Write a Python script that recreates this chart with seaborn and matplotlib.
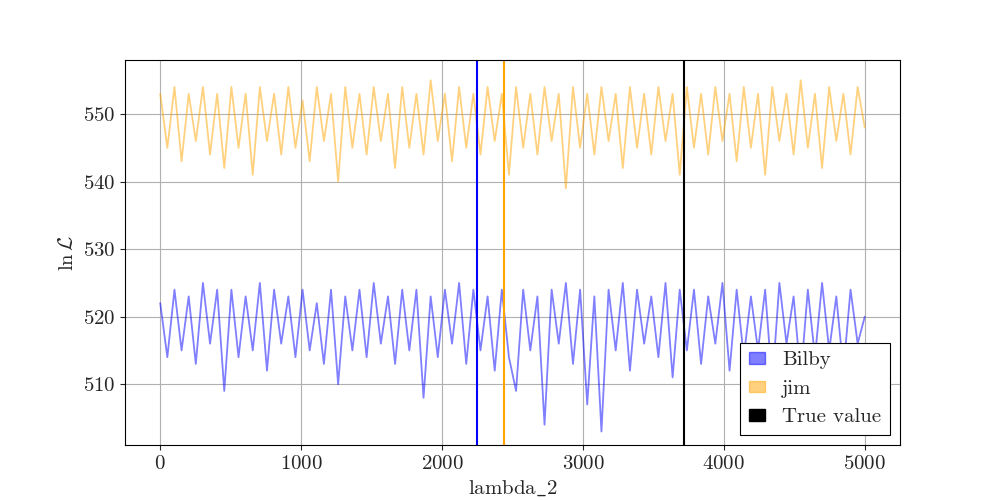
import numpy as np
import matplotlib
matplotlib.use("Agg")
import matplotlib.pyplot as plt
import seaborn as sns
from matplotlib.patches import Patch

sns.set_style("ticks")
plt.rcParams['font.family'] = ['cmr10', 'DejaVu Serif']
plt.rcParams['mathtext.fontset'] = 'cm'
plt.rcParams['axes.formatter.use_mathtext'] = True
plt.rcParams['axes.unicode_minus'] = False

bilby = [522,514,524,515,523,513,525,516,524,509,524,514,523,515,525,512,524,516,523,514,
         524,515,522,513,524,510,523,515,524,514,525,516,523,513,524,515,524,508,523,514,
         524,516,525,513,524,515,523,512,524,514,509,524,515,523,504,524,516,525,513,524,
         507,523,503,524,515,525,512,524,516,523,514,525,511,524,515,524,513,523,516,525,
         512,524,514,523,515,524,510,525,516,523,511,524,514,525,515,523,512,524,516,520]
jim = [553,545,554,543,553,546,554,544,553,542,554,545,553,541,554,546,553,544,554,545,
       552,543,554,546,553,540,554,545,553,544,554,546,553,542,554,545,553,544,555,546,
       553,543,554,545,553,544,554,546,553,541,554,545,553,544,554,546,553,539,554,545,
       553,544,554,546,553,542,554,545,553,544,554,546,553,541,554,545,553,544,554,546,
       553,543,554,545,553,541,554,546,553,544,555,545,553,542,554,546,553,544,554,548]
n_samples = 5000
vlines = {"Bilby": (2250, "blue"), "jim": (2440, "orange"), "True value": (3720, "black")}

xb = np.linspace(0, n_samples, len(bilby))
xj = np.linspace(0, n_samples, len(jim))

fig, ax = plt.subplots(figsize=(10, 5), dpi=100)
sns.lineplot(x=xb, y=bilby, ax=ax, color="blue", alpha=0.5, lw=1.3)
sns.lineplot(x=xj, y=jim, ax=ax, color="orange", alpha=0.5, lw=1.3)
for name, (v, c) in vlines.items():
    ax.axvline(v, color=c, lw=1.5)
ax.set_xlim(-250, 5250)
ax.set_ylim(501, 558)
ax.set_yticks([510, 520, 530, 540, 550])
ax.grid(True, color="#b0b0b0", lw=0.8)
ax.tick_params(labelsize=15)
ax.set_xlabel(r"$\mathrm{lambda\_2}$", fontsize=15)
ax.set_ylabel(r"$\ln\mathcal{L}$", fontsize=15)
for s in ax.spines.values():
    s.set_color("black")
handles = [Patch(color="blue", alpha=0.5, label="Bilby"),
           Patch(color="orange", alpha=0.5, label="jim"),
           Patch(color="black", label="True value")]
leg = ax.legend(handles=handles, loc="lower right", fontsize=15, fancybox=False,
                edgecolor="black", framealpha=1, handlelength=0.8, handleheight=0.5)
leg.get_frame().set_linewidth(0.8)
fig.savefig("out.png", dpi=100)
